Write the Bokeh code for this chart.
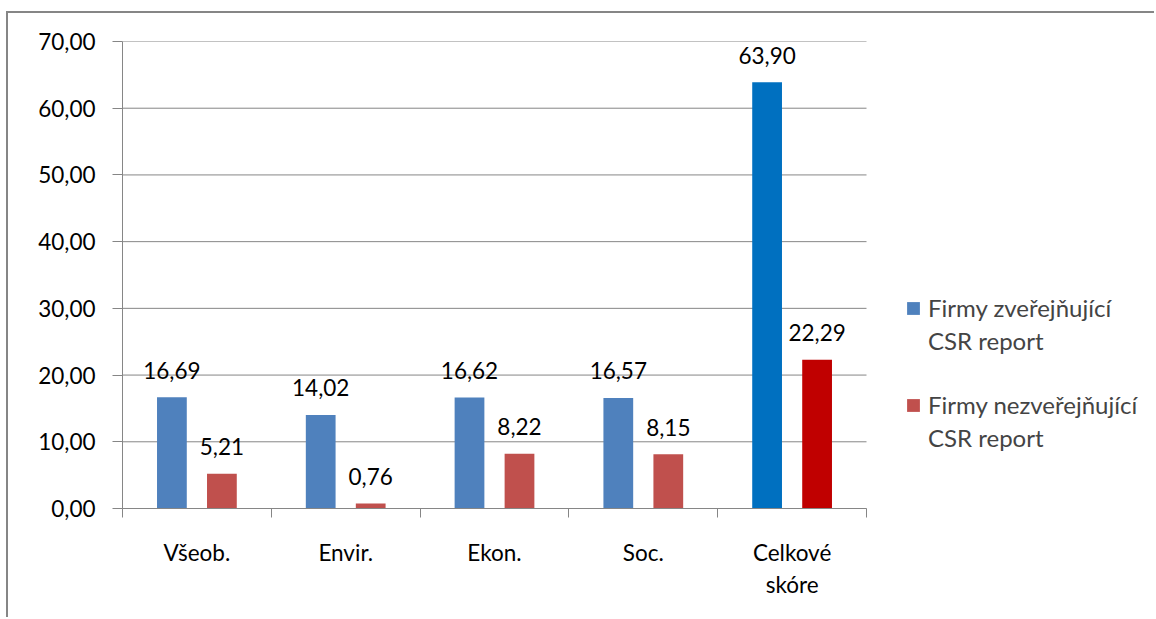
from bokeh.plotting import figure
from bokeh.models import (ColumnDataSource, Range1d, FixedTicker, Legend, LegendItem)
from bokeh.transform import dodge
from bokeh.core.properties import value
from bokeh.embed import file_html
from bokeh.resources import INLINE

# --- data ---
categories = ["Všeob.", "Envir.", "Ekon.", "Soc.", "Celkové skóre"]
publishing = [16.69, 14.02, 16.62, 16.57, 63.90]
non_publishing = [5.21, 0.76, 8.22, 8.15, 22.29]
series_lines = [["Firmy zveřejňující", "CSR report"],
                ["Firmy nezveřejňující", "CSR report"]]
y_ticks = [0, 10, 20, 30, 40, 50, 60, 70]

# --- styles ---
FONT = "Lato"
FS = "22.5px"
LEGEND_FS = "24px"
GRAY = "#868686"
blue_cols = ["#4F81BD"] * 4 + ["#0070C0"]
red_cols = ["#C0504D"] * 4 + ["#C00000"]

W, H = 1148, 606
LEFT, TOP, BOTTOM = 114, 28, 111
SLOT_PX = 148.8  # width of one category slot on screen


def fmt(v):
    return f"{v:.2f}".replace(".", ",")


n = len(categories)
centers = [i + 0.5 for i in range(n)]  # slot centre for each category
edges = list(range(n + 1))             # slot boundaries

src = ColumnDataSource(dict(
    x=centers,
    pub=publishing,
    npub=non_publishing,
    pub_lbl=[fmt(v) for v in publishing],
    npub_lbl=[fmt(v) for v in non_publishing],
    pub_col=blue_cols,
    npub_col=red_cols,
))

# the frame spans the legend area too; the category axis occupies [0, n]
x_end = (W - LEFT) / SLOT_PX
p = figure(x_range=Range1d(0, x_end), y_range=Range1d(0, 70),
           width=W, height=H, output_backend="svg", toolbar_location=None,
           x_axis_location="below", y_axis_location="left",
           min_border_left=LEFT, min_border_right=0,
           min_border_top=TOP, min_border_bottom=BOTTOM)
p.outline_line_color = None
p.background_fill_color = "white"
p.border_fill_color = "white"
# chart-area frame (left and top edges)
p.margin = (11, 0, 0, 6)
p.styles = {"border-left": f"2px solid {GRAY}", "border-top": f"2px solid {GRAY}"}

# horizontal grid lines, limited to the category area
p.xgrid.grid_line_color = None
p.ygrid.grid_line_color = None
p.segment(x0=0, x1=n, y0=y_ticks, y1=y_ticks, line_color=GRAY, line_width=1)

off = 0.168
bw = 0.2
r_pub = p.vbar(x=dodge("x", -off), top="pub", width=bw,
               source=src, fill_color="pub_col", line_color=None)
r_npub = p.vbar(x=dodge("x", off), top="npub", width=bw,
                source=src, fill_color="npub_col", line_color=None)

# value labels above bars
for col, lbl, dx in (("pub", "pub_lbl", -off), ("npub", "npub_lbl", off)):
    p.text(x=dodge("x", dx), y=col, text=lbl, source=src,
           text_align="center", text_baseline="alphabetic", y_offset=-27,
           text_font=value(FONT), text_font_size=FS, text_color="black")

# y axis
ya = p.yaxis[0]
ya.ticker = FixedTicker(ticks=y_ticks)
ya.major_label_overrides = {t: fmt(t) for t in y_ticks}
ya.axis_line_color = GRAY
ya.major_tick_line_color = GRAY
ya.major_tick_out = 10
ya.major_tick_in = 0
ya.minor_tick_line_color = None
ya.major_label_standoff = 17
ya.major_label_text_font = FONT
ya.major_label_text_font_size = FS
ya.major_label_text_color = "black"

# x axis: names at slot centres, tick marks on slot boundaries
xa = p.xaxis[0]
xa.bounds = (0, n)
xa.ticker = FixedTicker(ticks=centers, minor_ticks=edges)
xa.major_label_overrides = {c: name.replace(" ", "\n") for c, name in zip(centers, categories)}
xa.axis_line_color = GRAY
xa.major_tick_line_color = None
xa.major_tick_out = 0
xa.major_tick_in = 0
xa.minor_tick_line_color = GRAY
xa.minor_tick_out = 9
xa.minor_tick_in = 0
xa.major_label_standoff = 21
xa.major_label_text_font = FONT
xa.major_label_text_font_size = FS
xa.major_label_text_color = "black"
xa.major_label_text_line_height = 1.2

# legend: one block per series, swatch beside the first line
for (first, second), rend, vy in ((series_lines[0], r_pub, 153),
                                  (series_lines[1], r_npub, 56)):
    lg = Legend(items=[LegendItem(label=first, renderers=[rend]),
                       LegendItem(label=second, renderers=[])],
                location=(783, vy), orientation="vertical",
                glyph_width=16, glyph_height=16, label_standoff=7,
                spacing=4, padding=0, margin=0,
                label_text_font=FONT, label_text_font_size=LEGEND_FS,
                border_line_color=None, background_fill_alpha=0)
    p.add_layout(lg, "center")

open("out.html", "w").write(file_html(p, INLINE))
